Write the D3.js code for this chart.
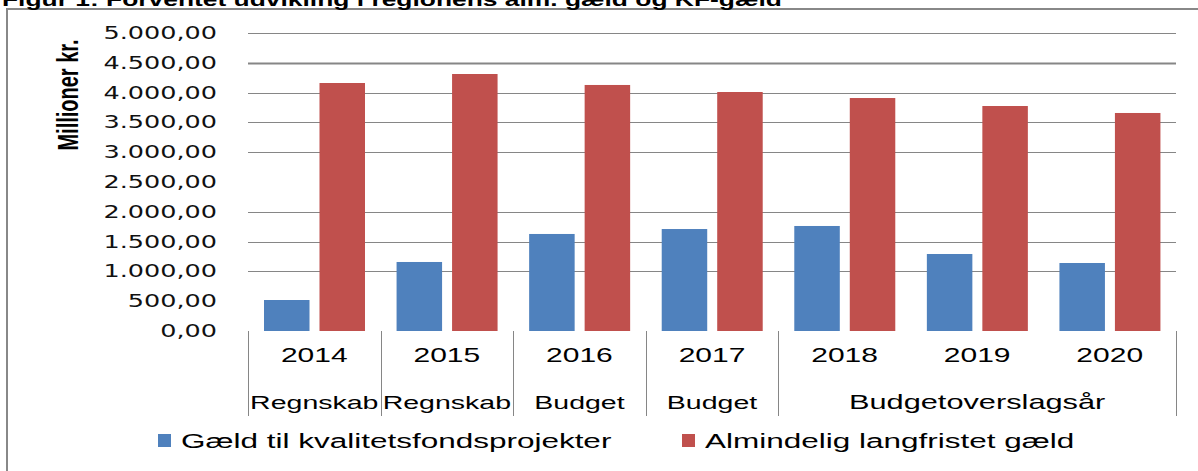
<!DOCTYPE html>
<html>
<head>
<meta charset="utf-8">
<script src="https://cdn.jsdelivr.net/npm/d3@7"></script>
<style>
  body { margin: 0; background: #fff; }
  svg { display: block; }
</style>
</head>
<body>
<script>
// data
var years = ["2014", "2015", "2016", "2017", "2018", "2019", "2020"];
var kfDebt = [520, 1158, 1628, 1711, 1762, 1292, 1141];
var generalDebt = [4161, 4312, 4128, 4010, 3909, 3775, 3658];
var seriesNames = ["Gæld til kvalitetsfondsprojekter", "Almindelig langfristet gæld"];
var seriesColors = ["#4F81BD", "#C0504D"];
var groupLabels = ["Regnskab", "Regnskab", "Budget", "Budget", "Budgetoverslagsår"];
var groupFirst = ["2014", "2015", "2016", "2017", "2018"];
var groupLast = ["2014", "2015", "2016", "2017", "2020"];
var yTicks = [0, 500, 1000, 1500, 2000, 2500, 3000, 3500, 4000, 4500, 5000];
// gridlines that survive in the picture (2500 and 500 are gone)
var gridTicks = [1000, 1500, 2000, 3000, 3500, 4000, 4500, 5000];
var titleText = "Figur 1: Forventet udvikling i regionens alm. gæld og KF-gæld";
var yTitle = "Millioner kr.";

var W = 1198, H = 471;
var stretch = 1.5; // the original is squashed wide

var svg = d3.select("body").append("svg")
    .attr("width", W).attr("height", H);

svg.append("rect").attr("width", W).attr("height", H).attr("fill", "#fff");

// frame (only top + left edges are in the crop)
svg.append("path")
    .attr("d", "M7,471 V9 H1198")
    .attr("fill", "none")
    .attr("stroke", "#888")
    .attr("stroke-width", 2);

// title, cut off at the top edge like in the source
svg.append("text")
    .attr("transform", "translate(2,6) scale(" + stretch + ",1)")
    .attr("font-family", "Liberation Sans")
    .attr("font-weight", "bold")
    .attr("font-size", 17.6)
    .attr("fill", "#000")
    .text(titleText);

var y = d3.scaleLinear().domain([0, 5000]).range([331, 33]);
var x0 = d3.scaleBand().domain(years).range([248, 1176]).padding(0);
var x1 = d3.scaleBand().domain([0, 1]).range([16, 117]).paddingInner(0.18);

var da = d3.formatLocale({decimal: ",", thousands: ".", grouping: [3], currency: ["", " kr."]});
var fmt = da.format(",.2f");

// gridlines
svg.append("g").selectAll("line").data(gridTicks).enter().append("line")
    .attr("x1", 248).attr("x2", 1176)
    .attr("y1", function (d) { return Math.round(y(d)) + 0.5; })
    .attr("y2", function (d) { return Math.round(y(d)) + 0.5; })
    .attr("stroke", "#868686")
    .attr("stroke-width", function (d) { return d === 4500 ? 2 : 1; });

// y tick labels
svg.append("g").selectAll("text").data(yTicks).enter().append("text")
    .attr("transform", function (d) { return "translate(217," + (y(d) + 6) + ") scale(" + stretch + ",1)"; })
    .attr("text-anchor", "end")
    .attr("font-family", "DejaVu Sans")
    .attr("font-size", 17)
    .attr("fill", "#111")
    .text(function (d) { return fmt(d); });

// y axis title
svg.append("text")
    .attr("transform", "translate(78,95) scale(" + stretch + ",1) rotate(-90)")
    .attr("text-anchor", "middle")
    .attr("font-family", "Liberation Sans")
    .attr("font-weight", "bold")
    .attr("font-size", 20)
    .attr("fill", "#000")
    .text(yTitle);

// bars
var rows = years.map(function (yr, i) { return {year: yr, vals: [kfDebt[i], generalDebt[i]]}; });
var grp = svg.append("g").selectAll("g").data(rows).enter().append("g")
    .attr("transform", function (d) { return "translate(" + x0(d.year) + ",0)"; });
grp.selectAll("rect").data(function (d) { return d.vals; }).enter().append("rect")
    .attr("x", function (d, i) { return x1(i); })
    .attr("width", x1.bandwidth())
    .attr("y", function (d) { return y(d); })
    .attr("height", function (d) { return y(0) - y(d); })
    .attr("fill", function (d, i) { return seriesColors[i]; });

// category axis: year labels
svg.append("g").selectAll("text").data(years).enter().append("text")
    .attr("transform", function (d) { return "translate(" + (x0(d) + x0.bandwidth() / 2) + ",362) scale(" + stretch + ",1)"; })
    .attr("text-anchor", "middle")
    .attr("font-family", "Liberation Sans")
    .attr("font-size", 20)
    .attr("fill", "#000")
    .text(function (d) { return d; });

// group labels + separators
var groups = groupLabels.map(function (g, i) {
    return {label: g, x0: x0(groupFirst[i]), x1: x0(groupLast[i]) + x0.bandwidth()};
});
svg.append("g").selectAll("text").data(groups).enter().append("text")
    .attr("transform", function (d) { return "translate(" + ((d.x0 + d.x1) / 2) + ",409) scale(" + stretch + ",1)"; })
    .attr("text-anchor", "middle")
    .attr("font-family", "Liberation Sans")
    .attr("font-size", function (d) { return d.label.length > 10 ? 20.5 : 19; })
    .attr("fill", "#000")
    .text(function (d) { return d.label; });

var seps = groups.map(function (g) { return g.x0; });
seps.push(groups[groups.length - 1].x1);
svg.append("g").selectAll("line").data(seps).enter().append("line")
    .attr("x1", function (d) { return Math.round(d) + 0.5; })
    .attr("x2", function (d) { return Math.round(d) + 0.5; })
    .attr("y1", 331).attr("y2", 416)
    .attr("stroke", "#868686")
    .attr("stroke-width", 1);

// legend
var legX = [158, 682];
var leg = svg.append("g").selectAll("g").data(seriesNames).enter().append("g")
    .attr("transform", function (d, i) { return "translate(" + legX[i] + ",434)"; });
leg.append("rect").attr("width", 13).attr("height", 13)
    .attr("fill", function (d, i) { return seriesColors[i]; });
leg.append("text")
    .attr("transform", "translate(23,14) scale(" + stretch + ",1)")
    .attr("font-family", "Liberation Sans")
    .attr("font-size", 21)
    .attr("fill", "#000")
    .text(function (d) { return d; });
</script>
</body>
</html>
